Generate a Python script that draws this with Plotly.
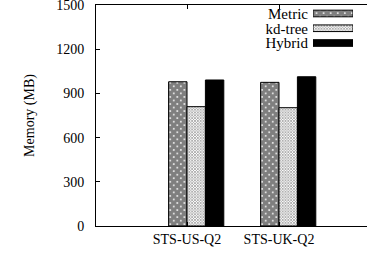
import plotly.graph_objects as go

categories = ["STS-US-Q2", "STS-UK-Q2"]
series = ["Metric", "kd-tree", "Hybrid"]
metric = [979, 975]
kdtree = [810, 803]
hybrid = [991, 1013]
y_ticks = [0, 300, 600, 900, 1200, 1500]

values = [metric, kdtree, hybrid]
W, H = 367, 255
L, R, T, B = 96, 0, 5, 29
FONT = "Liberation Serif"

bw = 0.2
offsets = [-0.1, 0.1, 0.3]
patterns = [
    dict(shape="x", size=5, solidity=0.9, fgcolor="black", bgcolor="white"),
    dict(shape="x", size=2, solidity=0.6, fgcolor="#333333", bgcolor="white"),
    None,
]
colors = ["white", "white", "black"]

fig = go.Figure()
xs = list(range(len(categories)))
for i, name in enumerate(series):
    marker = dict(color=colors[i], line=dict(color="black", width=1))
    if patterns[i]:
        marker["pattern"] = patterns[i]
    fig.add_trace(go.Bar(
        x=[x + offsets[i] for x in xs], y=values[i], width=bw, name=name,
        marker=marker, showlegend=False))

pw = W - L - R
ph = H - T - B

# legend samples on a small overlay axis; names shown as that axis's tick labels
for i, name in enumerate(series):
    marker = dict(color=colors[i], line=dict(color="black", width=1))
    if patterns[i]:
        marker["pattern"] = patterns[i]
    fig.add_trace(go.Bar(
        x=[1], y=[i], orientation="h", width=0.45, xaxis="x2", yaxis="y2",
        marker=marker, showlegend=False, hoverinfo="skip"))

fig.update_layout(
    width=W, height=H,
    margin=dict(l=L, r=R, t=T, b=B, autoexpand=False),
    paper_bgcolor="white", plot_bgcolor="white",
    font=dict(family=FONT, size=14, color="black"),
    bargap=0,
    xaxis=dict(
        range=[(L - 187) / 92, (W - 187) / 92],
        tickvals=xs, ticktext=categories,
        showline=True, linecolor="black", linewidth=1, mirror="ticks",
        ticks="inside", ticklen=4, tickcolor="black",
        showgrid=False, zeroline=False, automargin=False,
        ticklabeloverflow="allow",
    ),
    yaxis=dict(
        range=[0, 1500], tickvals=y_ticks,
        showline=True, linecolor="black", linewidth=1,
        ticks="inside", ticklen=4, tickcolor="black",
        ticklabelstandoff=8, ticklabeloverflow="allow",
        showgrid=False, zeroline=False, automargin=False,
        title=dict(text="Memory (MB)", standoff=18, font=dict(family=FONT, size=14)),
    ),
    xaxis2=dict(domain=[(313 - L) / pw, (353 - L) / pw], range=[0, 1],
                visible=False, anchor="y2"),
    yaxis2=dict(domain=[(226 - 50.4) / ph, (226 - 6.1) / ph], range=[2.5, -0.5],
                anchor="x2", side="left", showline=False, showgrid=False,
                zeroline=False, ticks="", tickvals=[0, 1, 2], ticktext=series,
                tickfont=dict(family=FONT, size=15, color="black"),
                ticklabelstandoff=4, ticklabeloverflow="allow", automargin=False),
)

fig.write_html("out.html", config={"displayModeBar": False, "staticPlot": True},
               post_script="document.body.style.margin='0';document.body.style.overflow='hidden';")
